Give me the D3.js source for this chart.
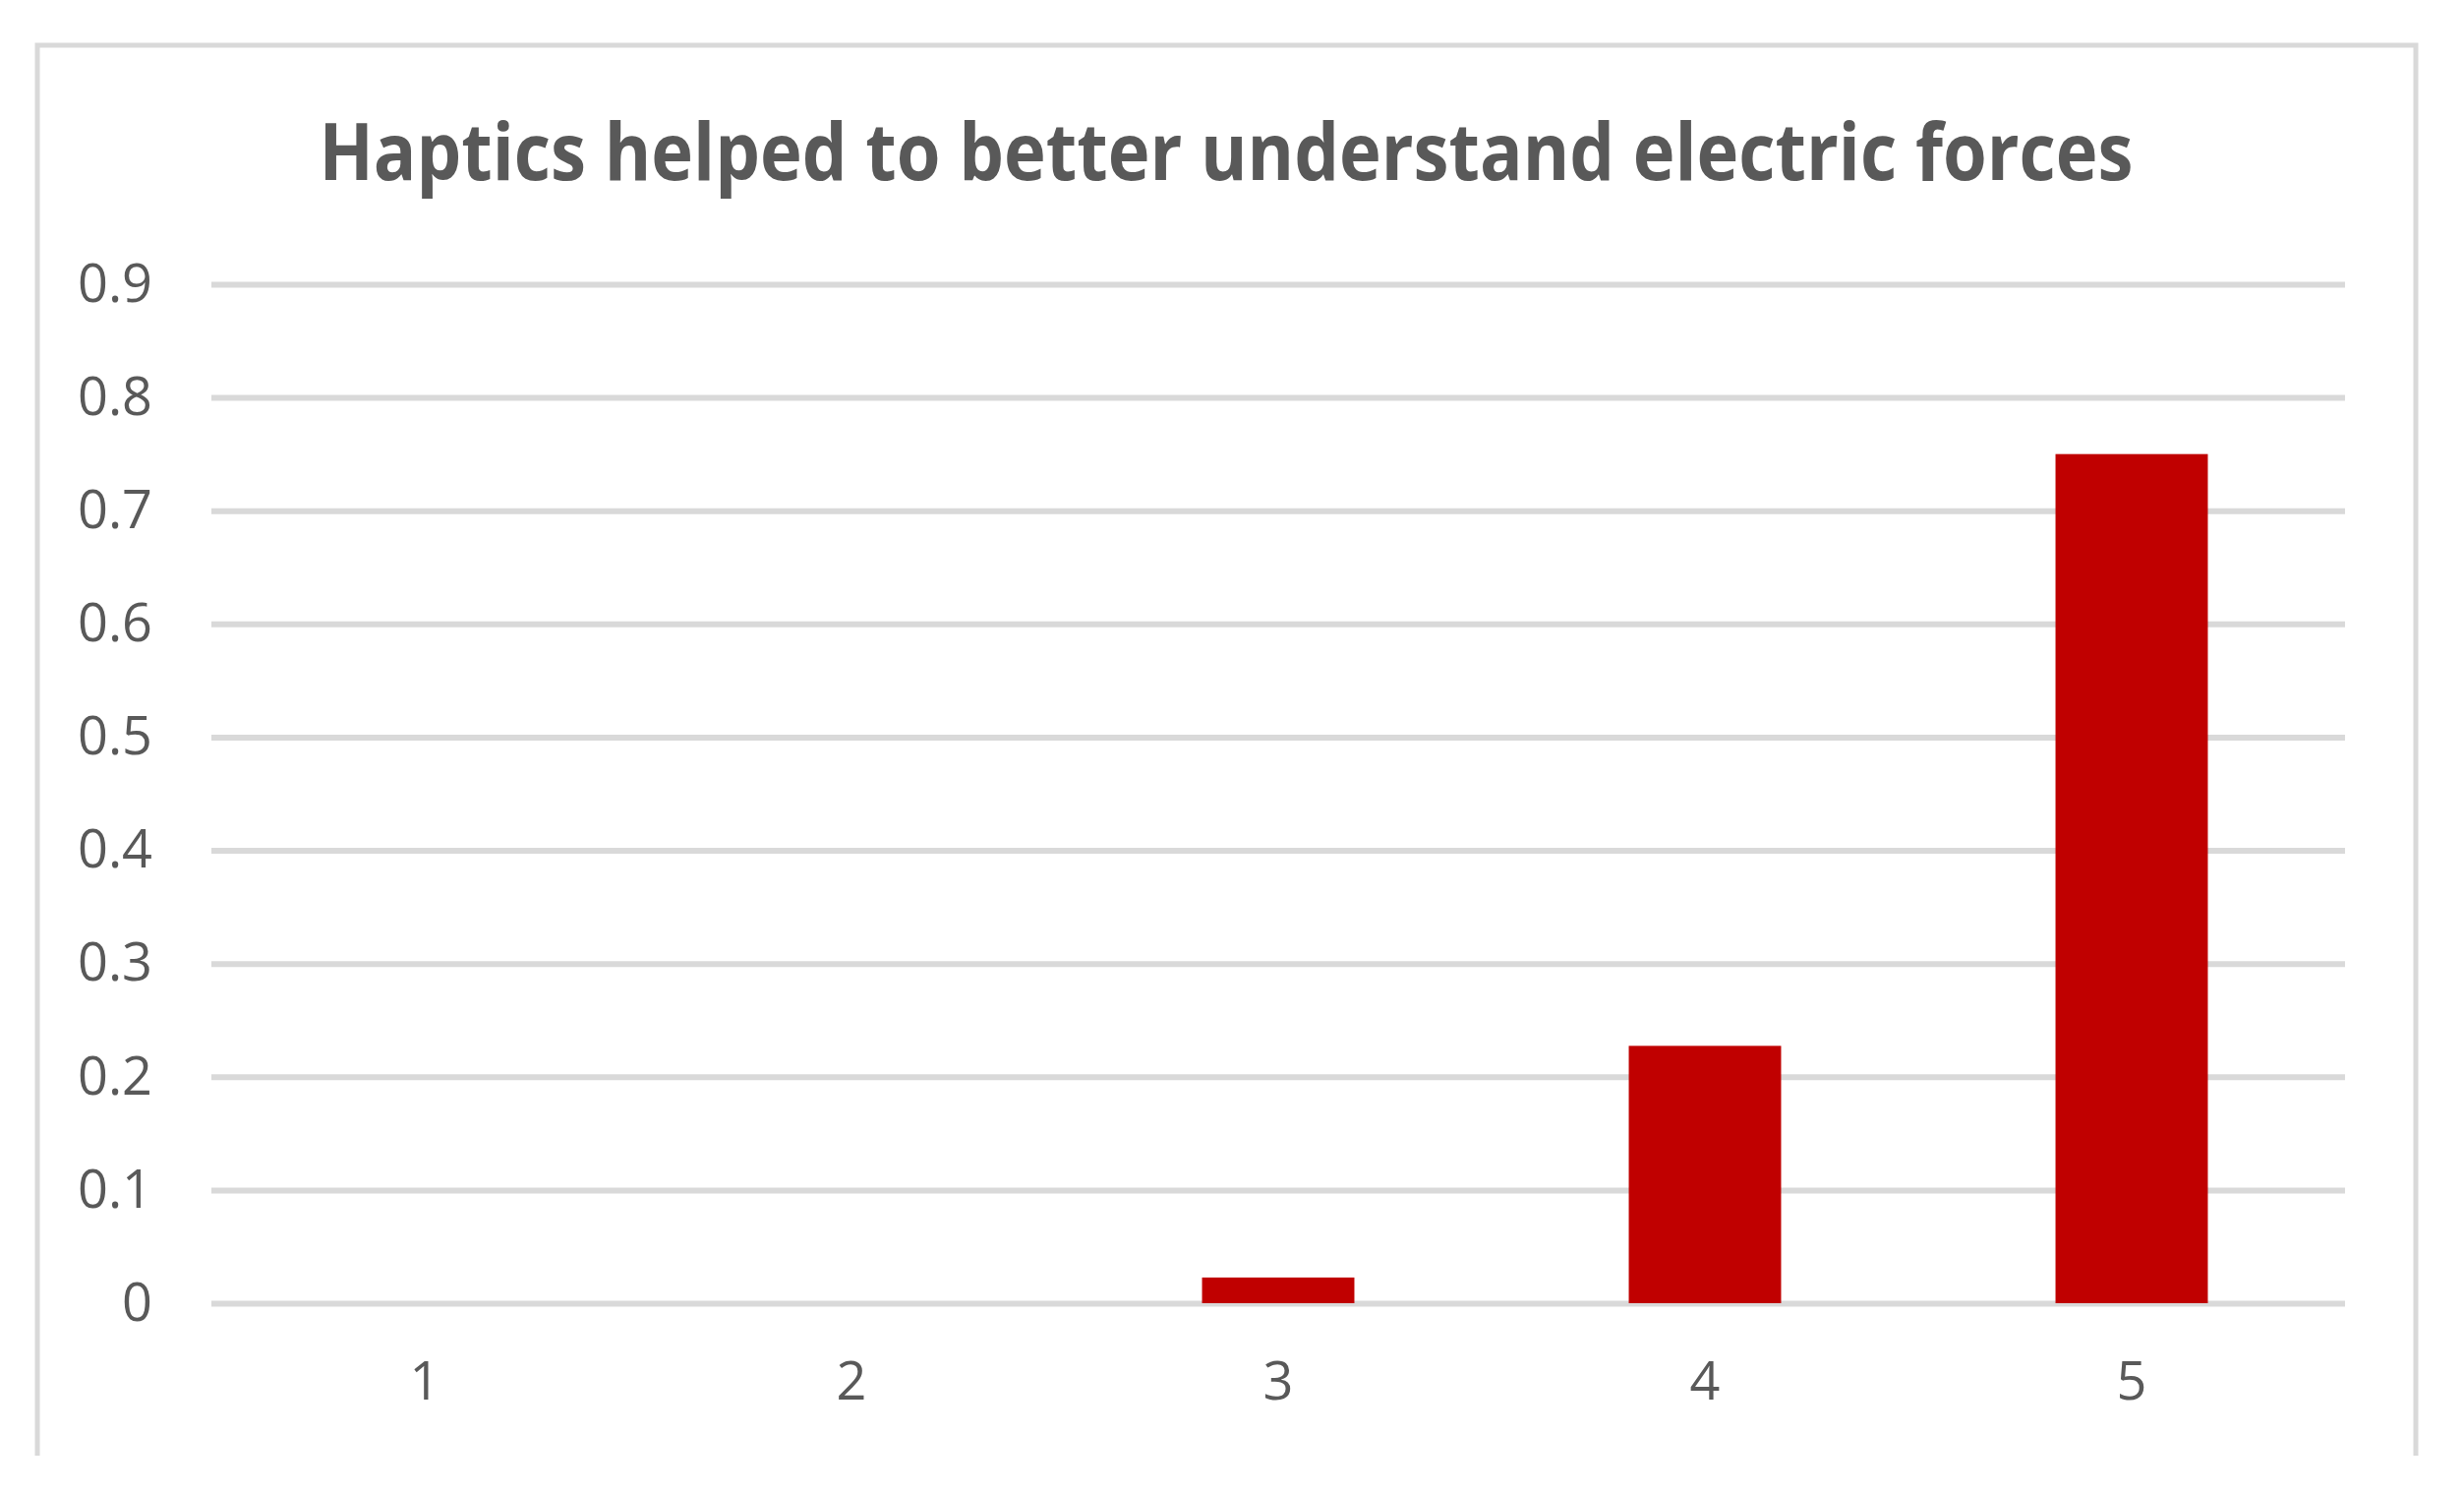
<!DOCTYPE html>
<html>
<head>
<meta charset="utf-8">
<script src="https://cdn.jsdelivr.net/npm/d3@7"></script>
<style>
  body { margin: 0; background: #fff; }
  .tick text { font-family: "Open Sans", sans-serif; fill: #595959; }
</style>
</head>
<body>
<div id="chart"></div>
<script>
// data (44 responses -> 1, 10, 33)
var categories = ["1", "2", "3", "4", "5"];
var values = [0, 0, 0.0227, 0.2273, 0.75];
var yTicks = [0, 0.1, 0.2, 0.3, 0.4, 0.5, 0.6, 0.7, 0.8, 0.9];
var titleText = "Haptics helped to better understand electric forces";

var svgWidth = 2506;
var svgHeight = 1519;

var plot = { left: 215, right: 2385, top: 289, bottom: 1325 };

var svg = d3.select("#chart")
  .append("svg")
  .attr("width", svgWidth)
  .attr("height", svgHeight);

svg.append("rect")
  .attr("width", svgWidth)
  .attr("height", svgHeight)
  .attr("fill", "#fff");

// chart frame (bottom edge is cut off in the original)
svg.append("path")
  .attr("d", "M38,1480 V46 H2457 V1480")
  .attr("fill", "none")
  .attr("stroke", "#d9d9d9")
  .attr("stroke-width", 5);

var xScale = d3.scaleBand()
  .domain(categories)
  .range([plot.left, plot.right])
  .paddingInner(0.643)
  .paddingOuter(0.3215);

var yScale = d3.scaleLinear()
  .domain([0, 0.9])
  .range([plot.bottom, plot.top]);

// gridlines + y labels
var leftAxis = d3.axisLeft(yScale)
  .tickValues(yTicks)
  .tickFormat(function(d) { return d === 0 ? "0" : d3.format(".1f")(d); })
  .tickSize(-(plot.right - plot.left))
  .tickPadding(60);

var yAxis = svg.append("g")
  .attr("transform", "translate(" + plot.left + ",0)")
  .call(leftAxis);

yAxis.select(".domain").remove();
yAxis.selectAll(".tick line")
  .attr("stroke", "#d9d9d9")
  .attr("stroke-width", 6);
yAxis.selectAll(".tick text")
  .attr("font-size", 54);

// bars
svg.selectAll("rect.bar")
  .data(values)
  .enter().append("rect")
    .attr("class", "bar")
    .attr("x", function(d, i) { return xScale(categories[i]); })
    .attr("width", xScale.bandwidth())
    .attr("y", function(d) { return yScale(d); })
    .attr("height", function(d) { return plot.bottom - yScale(d); })
    .attr("fill", "#c00000");

// x labels
var bottomAxis = d3.axisBottom(xScale)
  .tickSize(0)
  .tickPadding(60);

var xAxis = svg.append("g")
  .attr("transform", "translate(0," + plot.bottom + ")")
  .call(bottomAxis);

xAxis.select(".domain").remove();
xAxis.selectAll(".tick text")
  .attr("font-size", 54);

// title
svg.append("text")
  .attr("x", 1247)
  .attr("y", 183)
  .attr("text-anchor", "middle")
  .attr("font-family", "'Open Sans', sans-serif")
  .attr("font-weight", 700)
  .attr("font-size", 81)
  .attr("fill", "#595959")
  .attr("textLength", 1845)
  .attr("lengthAdjust", "spacingAndGlyphs")
  .text(titleText);
</script>
</body>
</html>
